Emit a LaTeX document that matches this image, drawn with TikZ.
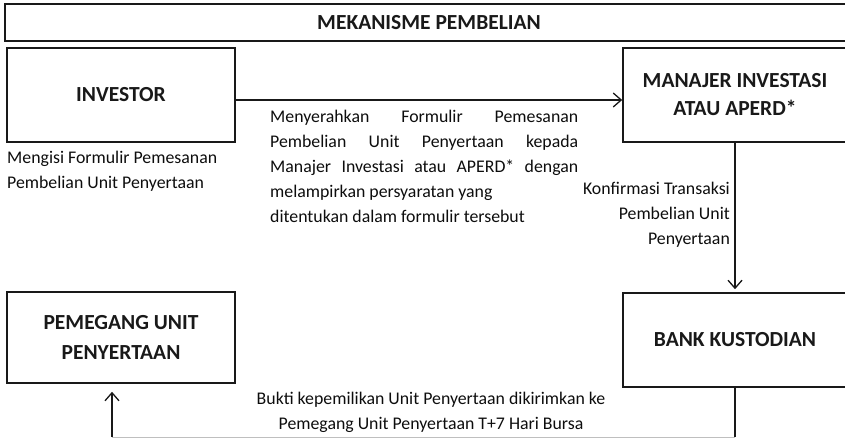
\documentclass[tikz,border=0pt]{standalone}
\usepackage{fontspec}
\setmainfont{Carlito}
\usetikzlibrary{arrows.meta}
\begin{document}
\begin{tikzpicture}[x=1pt,y=-1pt,
  box/.style={draw=black!90,line width=1.6pt,inner sep=0pt,align=center,
    font=\fontsize{21.5}{28}\selectfont\bfseries,text=black!90},
  txt/.style={inner sep=0pt,font=\fontsize{17.8}{25}\selectfont,text=black!95},
  conn/.style={line width=1.6pt,draw=black!90,-{Straight Barb[length=8pt,width=14pt,line width=1.3pt]}}
]
\useasboundingbox (0,0) rectangle (845,438);
\clip (0,0) rectangle (845,438);
% title
\node[box,line width=1.3pt,minimum width=848pt,minimum height=37pt] (title) at (429,22.5) {MEKANISME PEMBELIAN};
% boxes
\node[box,minimum width=228pt,minimum height=94pt] (inv) at (121,95) {INVESTOR};
\node[box,minimum width=224pt,minimum height=94pt] (mi) at (735,95) {MANAJER INVESTASI\\ATAU APERD*};
\node[box,minimum width=224pt,minimum height=94pt] (bk) at (735,340) {BANK KUSTODIAN};
\node[box,minimum width=228pt,minimum height=91pt,font=\fontsize{21.5}{30}\selectfont\bfseries] (pu) at (121,337.5) {PEMEGANG UNIT\\PENYERTAAN};
% labels
\node[txt,anchor=west,align=left] (l1) at (7,171) {Mengisi Formulir Pemesanan\\Pembelian Unit Penyertaan};
\node[txt,anchor=west,align=left] (l2) at (270,166) {\makebox[308pt][s]{Menyerahkan Formulir Pemesanan}\\
\makebox[308pt][s]{Pembelian Unit Penyertaan kepada}\\
\makebox[308pt][s]{Manajer Investasi atau APERD* dengan}\\
melampirkan persyaratan yang\\
ditentukan dalam formulir tersebut};
\node[txt,anchor=east,align=right] (l3) at (730,215) {Konfirmasi Transaksi\\Pembelian Unit\\Penyertaan};
\node[txt,align=center] (l4) at (431,412) {Bukti kepemilikan Unit Penyertaan dikirimkan ke\\Pemegang Unit Penyertaan T+7 Hari Bursa};
% connectors
\coordinate (c1) at (735,437);
\coordinate (c2) at (112,437);
\draw[conn,line width=1.3pt] (inv.east |- 0,100) -- (mi.west |- 0,100);
\draw[conn,shorten >=3pt] (mi.south) -- (bk.north);
\draw[line width=1.6pt,draw=black!90] (bk.south) -- (c1);
\draw[line width=1pt,draw=black!25] (c1) -- (c2);
\draw[conn,shorten >=8pt] (c2) -- (pu.south -| c2);
\end{tikzpicture}
\end{document}
